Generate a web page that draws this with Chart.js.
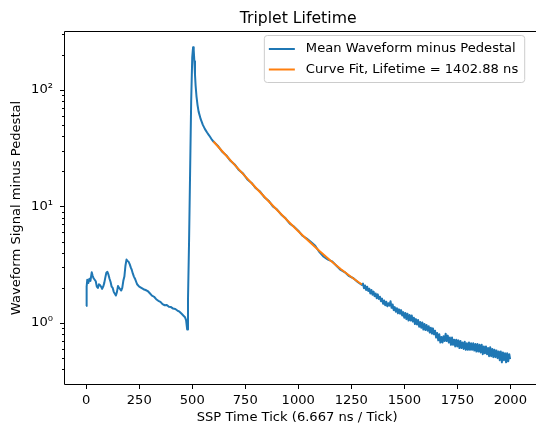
<!DOCTYPE html>
<html>
<head>
<meta charset="utf-8">
<title>Triplet Lifetime</title>
<script src="https://cdn.jsdelivr.net/npm/chart.js@4.4.1/dist/chart.umd.min.js"></script>
<style>
  body { margin: 0; background: #fff; }
  #chart { display: block; }
</style>
</head>
<body>
<canvas id="chart" width="536" height="426"></canvas>
<script>
// values
const chartTitle = "Triplet Lifetime";
const xTitle = "SSP Time Tick (6.667 ns / Tick)";
const yTitle = "Waveform Signal minus Pedestal";

const xTicks = [0, 250, 500, 750, 1000, 1250, 1500, 1750, 2000];
const xTickLabels = ["0", "250", "500", "750", "1000", "1250", "1500", "1750", "2000"];
const yTicks = [1, 10, 100];
const yTickLabels = ["10\u2070", "10\u00b9", "10\u00b2"];
const yMinorTicks = [0.4, 0.5, 0.6, 0.7, 0.8, 0.9, 2, 3, 4, 5, 6, 7, 8, 9,
                     20, 30, 40, 50, 60, 70, 80, 90, 200, 300];

const waveLabel = "Mean Waveform minus Pedestal";
const waveTicks = [
    0, 2, 5, 10, 15, 20, 26, 30, 35, 40,
    45, 50, 55, 60, 65, 70, 75, 80, 85, 90,
    95, 100, 105, 110, 115, 120, 125, 130, 135, 140,
    145, 150, 155, 160, 165, 170, 175, 180, 185, 190,
    195, 200, 205, 210, 215, 220, 225, 230, 240, 250,
    260, 270, 280, 290, 300, 310, 320, 330, 340, 350,
    360, 370, 380, 390, 400, 410, 420, 430, 440, 450,
    460, 466, 471, 476, 480, 485, 490, 495, 500, 504,
    507, 510, 513, 516, 520, 525, 530, 540, 550,
    560, 570, 580, 590, 600, 620, 640, 660, 680, 700,
    720, 740, 760, 780, 800, 820, 840, 860, 880, 900,
    920, 940, 960, 980, 1000, 1020, 1040, 1060, 1080, 1100,
    1120, 1140, 1160, 1180, 1200, 1220, 1240, 1260, 1280, 1300,
    1305, 1310, 1315, 1320, 1325, 1330, 1335, 1340, 1345, 1350,
    1355, 1360, 1365, 1370, 1375, 1380, 1385, 1390, 1395, 1400,
    1405, 1410, 1415, 1420, 1425, 1430, 1435, 1440, 1445, 1450,
    1455, 1460, 1465, 1470, 1475, 1480, 1485, 1490, 1495, 1500,
    1505, 1510, 1515, 1520, 1525, 1530, 1535, 1540, 1545, 1550,
    1555, 1560, 1565, 1570, 1575, 1580, 1585, 1590, 1595, 1600,
    1605, 1610, 1615, 1620, 1625, 1630, 1635, 1640, 1645, 1650,
    1655, 1660, 1665, 1670, 1675, 1680, 1685, 1690, 1695, 1700,
    1705, 1710, 1715, 1720, 1725, 1730, 1735, 1740, 1745, 1750,
    1755, 1760, 1765, 1770, 1775, 1780, 1785, 1790, 1795, 1800,
    1805, 1810, 1815, 1820, 1825, 1830, 1835, 1840, 1845, 1850,
    1855, 1860, 1865, 1870, 1875, 1880, 1885, 1890, 1895, 1900,
    1905, 1910, 1915, 1920, 1925, 1930, 1935, 1940, 1945, 1950,
    1955, 1960, 1965, 1970, 1975, 1980, 1985, 1990, 1995, 1999
];
const waveSignal = [
    1.40, 2.05, 2.35, 2.20, 2.40, 2.30, 2.72, 2.55, 2.42, 2.35,
    2.28, 2.05, 2.00, 2.15, 2.12, 2.05, 1.96, 2.05, 2.20, 2.45,
    2.70, 2.75, 2.60, 2.40, 2.25, 2.05, 2.00, 1.85, 1.78, 1.72,
    1.85, 2.08, 2.00, 1.95, 1.90, 2.00, 2.30, 2.50, 3.10, 3.50,
    3.40, 3.35, 3.20, 3.00, 2.85, 2.65, 2.50, 2.40, 2.15, 2.05,
    2.00, 1.95, 1.92, 1.88, 1.80, 1.72, 1.68, 1.60, 1.55, 1.52,
    1.45, 1.42, 1.43, 1.38, 1.37, 1.33, 1.32, 1.28, 1.25, 1.20,
    1.15, 1.12, 1.06, 0.88, 1.60, 5.0, 20.0, 80.0, 190, 232,
    218, 176, 135, 108, 88, 74, 65, 56, 50,
    46, 43, 40.5, 38, 36, 33.2, 29.6, 27.5, 24.6, 22.9,
    20.5, 19.1, 17.0, 15.9, 14.3, 13.4, 12.0, 11.2, 10.0, 9.4,
    8.5, 7.9, 7.1, 6.7, 6.2, 5.6, 5.3, 4.95, 4.6, 4.05,
    3.7, 3.5, 3.38, 3.1, 2.85, 2.72, 2.52, 2.42, 2.25, 2.12,
    2.18, 1.99, 2.10, 1.92, 2.05, 1.88, 1.97, 1.79, 1.92, 1.75,
    1.86, 1.70, 1.79, 1.63, 1.76, 1.61, 1.68, 1.54, 1.62, 1.46,
    1.56, 1.42, 1.52, 1.39, 1.48, 1.41, 1.54, 1.35, 1.44, 1.29,
    1.37, 1.25, 1.34, 1.21, 1.31, 1.20, 1.29, 1.16, 1.24, 1.11,
    1.22, 1.08, 1.20, 1.05, 1.17, 1.05, 1.16, 1.03, 1.11, 0.98,
    1.08, 0.97, 1.06, 0.93, 1.02, 0.91, 1.01, 0.88, 0.98, 0.87,
    0.96, 0.86, 0.94, 0.83, 0.91, 0.81, 0.90, 0.80, 0.86, 0.75,
    0.82, 0.71, 0.80, 0.68, 0.76, 0.68, 0.77, 0.70, 0.81, 0.70,
    0.78, 0.68, 0.75, 0.65, 0.75, 0.65, 0.72, 0.63, 0.72, 0.63,
    0.71, 0.61, 0.70, 0.61, 0.68, 0.60, 0.69, 0.59, 0.67, 0.59,
    0.68, 0.59, 0.67, 0.59, 0.67, 0.58, 0.66, 0.57, 0.66, 0.57,
    0.65, 0.56, 0.65, 0.54, 0.63, 0.55, 0.63, 0.54, 0.61, 0.52,
    0.62, 0.52, 0.60, 0.51, 0.59, 0.51, 0.58, 0.50, 0.57, 0.48,
    0.57, 0.46, 0.56, 0.48, 0.55, 0.46, 0.55, 0.47, 0.54, 0.49
];

const fitLabel = "Curve Fit, Lifetime = 1402.88 ns";
const fitTicks = [600, 650, 700, 750, 800, 850, 900, 950, 1000, 1050, 1100, 1150, 1200, 1250, 1300];
const fitSignal = [36.0, 28.57, 22.71, 18.10, 14.45, 11.58, 9.32, 7.53, 6.13, 5.02, 4.14, 3.45, 2.91, 2.48, 2.14];

const fontFamily = "'DejaVu Sans', sans-serif";
const font = { family: fontFamily, size: 13.1 };
const textColor = "#000";

// spines, tick marks, title and legend drawn the matplotlib way
const axesDecor = {
    id: "axesDecor",
    afterDraw(chart) {
        const ctx = chart.ctx;
        const area = chart.chartArea;
        const xs = chart.scales.x;
        const ys = chart.scales.y;
        ctx.save();

        ctx.strokeStyle = "#000";
        ctx.lineWidth = 1;
        ctx.beginPath();
        ctx.moveTo(chart.width, area.top - 0.5);
        ctx.lineTo(area.left - 0.5, area.top - 0.5);
        ctx.lineTo(area.left - 0.5, area.bottom + 0.5);
        ctx.lineTo(chart.width, area.bottom + 0.5);
        ctx.stroke();

        ctx.beginPath();
        xTicks.forEach(v => {
            const px = Math.round(xs.getPixelForValue(v)) + 0.5;
            ctx.moveTo(px, area.bottom);
            ctx.lineTo(px, area.bottom + 5);
        });
        yTicks.forEach(v => {
            const py = Math.round(ys.getPixelForValue(v)) + 0.5;
            ctx.moveTo(area.left, py);
            ctx.lineTo(area.left - 5, py);
        });
        yMinorTicks.forEach(v => {
            const py = Math.round(ys.getPixelForValue(v)) + 0.5;
            ctx.moveTo(area.left, py);
            ctx.lineTo(area.left - 3, py);
        });
        ctx.stroke();

        // title
        ctx.fillStyle = textColor;
        ctx.font = "15.7px " + fontFamily;
        ctx.textAlign = "center";
        ctx.textBaseline = "alphabetic";
        ctx.fillText(chartTitle, (area.left + area.right) / 2 + 1, 22.5);

        // legend, upper right inside the axes
        ctx.font = "13.1px " + fontFamily;
        const sets = chart.data.datasets;
        const textW = Math.max(...sets.map(d => ctx.measureText(d.label).width));
        const boxRight = area.right - 5;
        const boxTop = area.top + 3;
        const boxW = 5 + 26 + 11 + textW + 6;
        const boxH = 47;
        const boxLeft = boxRight - boxW;
        ctx.beginPath();
        ctx.roundRect(boxLeft + 0.5, boxTop + 0.5, boxW, boxH, 3);
        ctx.fillStyle = "rgba(255,255,255,0.8)";
        ctx.fill();
        ctx.strokeStyle = "#cccccc";
        ctx.stroke();
        sets.forEach((d, i) => {
            const rowY = boxTop + 14 + i * 20.5;
            ctx.beginPath();
            ctx.strokeStyle = d.borderColor;
            ctx.lineWidth = 2;
            ctx.moveTo(boxLeft + 5, rowY);
            ctx.lineTo(boxLeft + 31, rowY);
            ctx.stroke();
            ctx.fillStyle = textColor;
            ctx.textAlign = "left";
            ctx.textBaseline = "middle";
            ctx.fillText(d.label, boxLeft + 42, rowY);
        });
        ctx.restore();
    }
};

new Chart(document.getElementById("chart"), {
    type: "line",
    data: {
        datasets: [{
            label: waveLabel,
            data: waveTicks.map((t, i) => ({ x: t, y: waveSignal[i] })),
            borderColor: "#1f77b4",
            borderWidth: 2,
            borderJoinStyle: "round",
            pointRadius: 0,
            tension: 0,
            order: 2
        }, {
            label: fitLabel,
            data: fitTicks.map((t, i) => ({ x: t, y: fitSignal[i] })),
            borderColor: "#ff7f0e",
            borderWidth: 2,
            borderJoinStyle: "round",
            pointRadius: 0,
            tension: 0,
            order: 1
        }]
    },
    options: {
        responsive: false,
        animation: false,
        devicePixelRatio: 1,
        layout: { padding: { top: 32, left: 0, right: 0, bottom: 0 } },
        plugins: {
            legend: { display: false },
            title: { display: false },
            tooltip: { enabled: false }
        },
        scales: {
            x: {
                type: "linear",
                min: -100,
                max: 2089,
                grid: { display: false, drawTicks: false },
                border: { display: false },
                afterBuildTicks: scale => { scale.ticks = xTicks.map(v => ({ value: v })); },
                afterFit: scale => { scale.height = 42; },
                ticks: {
                    padding: 9,
                    font: font,
                    color: textColor,
                    maxRotation: 0,
                    autoSkip: false,
                    callback: (value, index) => xTickLabels[index]
                },
                title: { display: true, text: xTitle, font: font, color: textColor, padding: { top: 0, bottom: 1 } }
            },
            y: {
                type: "logarithmic",
                min: 0.332,
                max: 313,
                grid: { display: false, drawTicks: false },
                border: { display: false },
                afterBuildTicks: scale => { scale.ticks = yTicks.map(v => ({ value: v })); },
                afterFit: scale => { scale.width = 65; },
                ticks: {
                    padding: 12,
                    font: font,
                    color: textColor,
                    autoSkip: false,
                    callback: (value, index) => yTickLabels[index]
                },
                title: { display: true, text: yTitle, font: font, color: textColor, padding: { top: 9, bottom: 0 } }
            }
        }
    },
    plugins: [axesDecor]
});
</script>
</body>
</html>
